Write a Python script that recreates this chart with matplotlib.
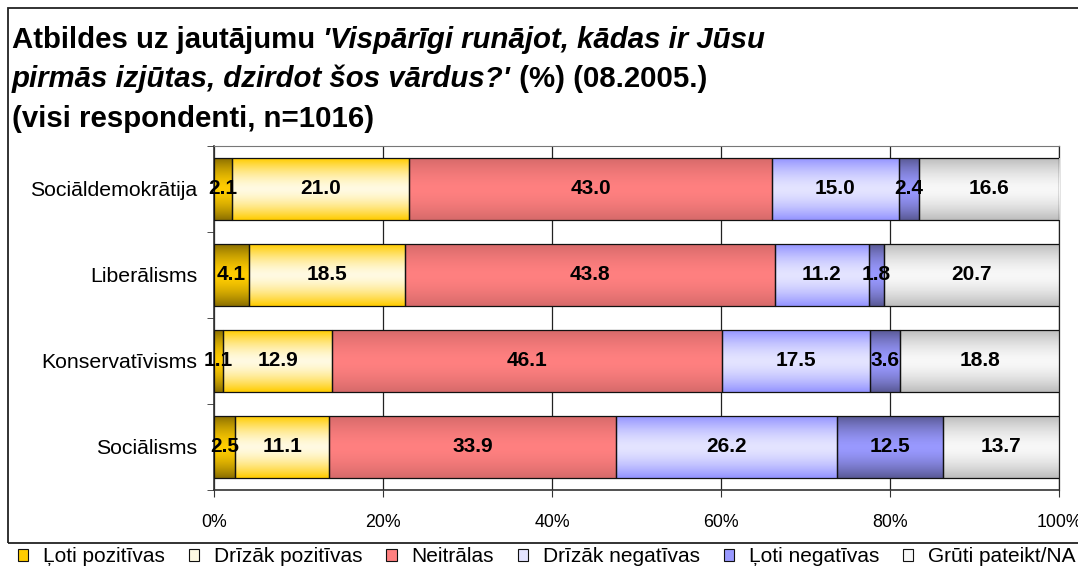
import numpy as np
import matplotlib
matplotlib.use("Agg")
import matplotlib.pyplot as plt
from matplotlib.patches import Rectangle, Patch
from matplotlib.colors import to_rgb

plt.rcParams['font.family'] = ['Liberation Sans', 'DejaVu Sans']

categories = ["Sociāldemokrātija", "Liberālisms", "Konservatīvisms", "Sociālisms"]
series = ["Ļoti pozitīvas", "Drīzāk pozitīvas", "Neitrālas", "Drīzāk negatīvas",
          "Ļoti negatīvas", "Grūti pateikt/NA"]
loti_pozitivas = [2.1, 4.1, 1.1, 2.5]
drizak_pozitivas = [21.0, 18.5, 12.9, 11.1]
neitralas = [43.0, 43.8, 46.1, 33.9]
drizak_negativas = [15.0, 11.2, 17.5, 26.2]
loti_negativas = [2.4, 1.8, 3.6, 12.5]
gruti_pateikt = [16.6, 20.7, 18.8, 13.7]
xticks = [0, 20, 40, 60, 80, 100]
xtick_labels = ["0%", "20%", "40%", "60%", "80%", "100%"]

values = np.array([loti_pozitivas, drizak_pozitivas, neitralas,
                   drizak_negativas, loti_negativas, gruti_pateikt])
shares = values / values.sum(axis=0) * 100

# (edge colour, centre colour) for vertical gradient
grad = [("#8c7000", "#ffcc00"),
        ("#ffcc00", "#fffae2"),
        ("#d66a6a", "#ff8080"),
        ("#9494ff", "#e4e4ff"),
        ("#5a5a96", "#9999ff"),
        ("#bdbdbd", "#f8f8f8")]

W, H = 1078, 575
fig = plt.figure(figsize=(W / 100, H / 100), dpi=100)
ax = fig.add_axes([214 / W, 1 - 490 / H, (1059 - 214) / W, (490 - 146) / H])

ypos = np.arange(len(categories))
left = np.zeros(len(categories))
n = 64
t = np.abs(np.linspace(-1, 1, n)) ** 1.6
for i, (ec, cc) in enumerate(grad):
    bars = ax.barh(ypos, shares[i], left=left, height=0.72, color='none',
                   edgecolor='#111111', linewidth=0.9, zorder=4)
    e, c = np.array(to_rgb(ec)), np.array(to_rgb(cc))
    img = (c[None, :] + (e - c)[None, :] * t[:, None])[:, None, :]
    for b, v in zip(bars, values[i]):
        x0, y0, w, h = b.get_x(), b.get_y(), b.get_width(), b.get_height()
        ax.imshow(img, extent=(x0, x0 + w, y0, y0 + h), aspect='auto',
                  zorder=3, interpolation='bilinear')
        ax.text(x0 + w / 2, y0 + h / 2, f"{v:.1f}", ha='center', va='center',
                fontsize=15, fontweight='bold', zorder=5)
    left += shares[i]

ax.set_xlim(0, 100)
ax.set_ylim(len(categories) - 0.5, -0.5)
ax.set_xticks(xticks)
ax.set_xticklabels(xtick_labels, fontsize=12.8)
ax.set_yticks(ypos)
ax.set_yticklabels(categories, fontsize=15.3)
ax.set_yticks(np.arange(-0.5, len(categories)), minor=True)
ax.tick_params(axis='y', which='major', length=0, pad=12)
ax.tick_params(axis='y', which='minor', length=5, direction='out', color='#333333')
ax.tick_params(axis='x', length=5, direction='out', pad=12, color='#333333')
ax.grid(axis='x', color='#222222', linewidth=0.9, zorder=0)
ax.set_axisbelow(True)
for s in ['left', 'bottom']:
    ax.spines[s].set_color('#333333')
    ax.spines[s].set_linewidth(1.2)
ax.spines['top'].set_color('#777777')
ax.spines['right'].set_color('#222222')
ax.spines['right'].set_linewidth(0.9)

# outer frame
fig.patches.append(Rectangle((8 / W, 1 - 543 / H), 1.2, (543 - 8) / H,
                             transform=fig.transFigure, fill=False,
                             edgecolor='#222222', linewidth=1.3))

# title with mixed bold / bold-italic
fs = 21.2
renderer = fig.canvas.get_renderer()
lines = [[("Atbildes uz jautājumu ", 'normal'),
          ("'Vispārīgi runājot, kādas ir Jūsu", 'italic')],
         [("pirmās izjūtas, dzirdot šos vārdus?'", 'italic'),
          (" (%) (08.2005.)", 'normal')],
         [("(visi respondenti, n=1016)", 'normal')]]
basel = [48, 87, 127]
for line, yb in zip(lines, basel):
    x = 12
    for txt, style in line:
        tt = fig.text(x / W, 1 - yb / H, txt, fontsize=fs, fontweight='bold',
                      style=style, va='baseline', ha='left')
        bb = tt.get_window_extent(renderer)
        x += bb.width

handles = [Patch(facecolor=cc, edgecolor='#111111', linewidth=0.8) for ec, cc in grad]
fig.legend(handles, series, loc='center left', bbox_to_anchor=(18 / W, 1 - 557 / H),
           ncol=6, frameon=False, fontsize=15, handlelength=0.5, handleheight=0.5,
           handletextpad=0.7, columnspacing=1.15, borderaxespad=0, borderpad=0)

fig.savefig("out.png", dpi=100)
